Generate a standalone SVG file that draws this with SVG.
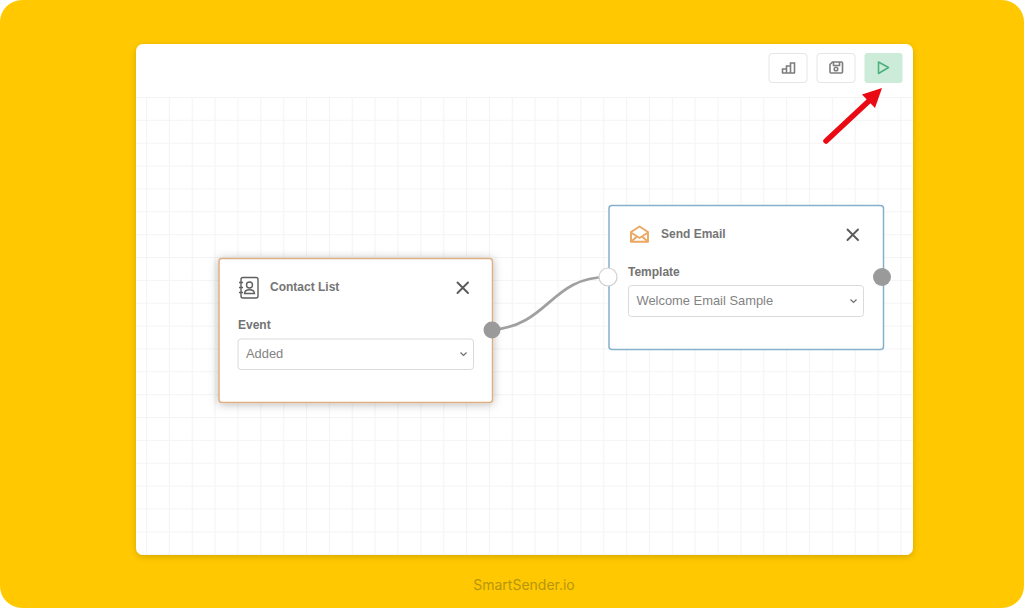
<svg xmlns="http://www.w3.org/2000/svg" width="1024" height="608" viewBox="0 0 1024 608">
<defs>
<filter id="cardShadow" x="-10%" y="-10%" width="120%" height="120%"><feDropShadow dx="0" dy="2" stdDeviation="3" flood-color="#000" flood-opacity="0.16"/></filter>
<filter id="nodeShadow" x="-15%" y="-20%" width="130%" height="140%"><feDropShadow dx="0" dy="1" stdDeviation="5" flood-color="#000" flood-opacity="0.28"/></filter>
<pattern id="grid" x="146" y="97" width="22.86" height="22.86" patternUnits="userSpaceOnUse"><path d="M0.5 0V22.86M0 0.5H22.86" fill="none" stroke="#f4f4f4" stroke-width="1.2"/></pattern>
</defs>
<style>
text{font-family:"Liberation Sans",Arial,sans-serif}
.title{font-size:12px;font-weight:700;fill:#757575}
.label{font-size:12px;font-weight:700;fill:#737373}
.value{font-size:12.9px;fill:#838383}
.card{fill:#fff;stroke-width:1.5}
.sel{fill:#fff;stroke:#dadada;stroke-width:1}
.x{fill:none;stroke:#5a5a5a;stroke-width:1.9;stroke-linecap:round}
.chev{fill:none;stroke:#6e6e6e;stroke-width:1.2}
.btn{fill:#fff;stroke:#e6e6e6;stroke-width:1}
.ico{fill:none;stroke:#7d7d7d;stroke-width:1.6}
.port{fill:#9a9a9a}
</style>
<rect width="1024" height="608" fill="#fff"/>
<rect width="1024" height="608" rx="22" fill="#ffc800"/>
<g id="canvas">
<rect x="136" y="44" width="777" height="511" rx="7" fill="#fff" filter="url(#cardShadow)"/>
<path d="M136 97H913V548a7 7 0 0 1-7 7H143a7 7 0 0 1-7-7Z" fill="url(#grid)"/>
</g>
<g id="toolbar">
<g id="btn-stats"><rect class="btn" x="769" y="53.500" width="38" height="29" rx="3"/><path class="ico" d="M782.500 73V69H786.500V73M786.500 73V66H790.500V73M790.500 73V63H794.500V73M782 73H795"/></g>
<g id="btn-save"><rect class="btn" x="817" y="53.500" width="38" height="29" rx="3"/><path class="ico" d="M830 64.500L832.500 62H841.500Q842.500 62 842.500 63V72Q842.500 73 841.500 73H831Q830 73 830 72ZM833.500 62V65.500H839.500V62"/><circle class="ico" cx="836" cy="69" r="1.800"/></g>
<g id="btn-run"><rect x="864.500" y="53" width="38" height="30" rx="3" fill="#cdebd9"/><path d="M878.500 62L888.500 67.500L878.500 73.500Z" fill="none" stroke="#4cb27b" stroke-width="1.600" stroke-linejoin="round"/></g>
</g>
<g id="arrow"><path d="M826 141L870 100" stroke="#ea0a14" stroke-width="5.500" stroke-linecap="round"/><path d="M882 88L875 108L862 94.500Z" fill="#ea0a14"/></g>
<g id="connectors"><path d="M492 330C550 325 550 277 608 277" fill="none" stroke="#a0a0a0" stroke-width="2.700"/></g>
<g id="contact-list">
<rect class="card" x="219" y="258.500" width="273.500" height="144" rx="3" stroke="#dbb084" filter="url(#nodeShadow)"/>
<g fill="none" stroke="#5f5f5f" stroke-width="1.400"><rect x="241" y="277.500" width="17" height="20.500" rx="2"/><circle cx="249.500" cy="285" r="3"/><path d="M244.500 293.500C245 288.500 254 288.500 254.500 293.500ZM239 282.500H243M239 287.500H243M239 292.500H243"/></g>
<text class="title" x="270" y="290.500">Contact List</text>
<path class="x" d="M457.500 282.500L468 293M468 282.500L457.500 293"/>
<text class="label" x="238" y="329">Event</text>
<rect class="sel" x="238" y="339" width="235.500" height="30.500" rx="3"/>
<text class="value" x="246" y="358">Added</text>
<path class="chev" d="M460.500 352.500L463.500 355.500L466.500 352.500"/>
<circle class="port" cx="492" cy="330" r="8.500"/>
</g>
<g id="send-email">
<rect class="card" x="609" y="205.500" width="274.500" height="144" rx="3" stroke="#84b0cb"/>
<g fill="none" stroke="#eca763" stroke-width="1.900" stroke-linejoin="round"><path d="M631 232L639.500 226.500L648 232V241.800H631Z"/><path d="M631 232.500L639.500 238L648 232.500M631 241.800L637 236.500M648 241.800L642 236.500"/></g>
<text class="title" x="661" y="238">Send Email</text>
<path class="x" d="M847.500 229.500L858 240M858 229.500L847.500 240"/>
<text class="label" x="628" y="276">Template</text>
<rect class="sel" x="628.500" y="285.500" width="235" height="31" rx="3"/>
<text class="value" x="636.500" y="304.500">Welcome Email Sample</text>
<path class="chev" d="M850.500 299.500L853.500 302.500L856.500 299.500"/>
<circle cx="608" cy="277" r="9" fill="#fff" stroke="#cfcfcf" stroke-width="1.200"/>
<circle class="port" cx="882" cy="277" r="9"/>
</g>
<text x="524" y="590" text-anchor="middle" font-size="14" fill="#b8950f" style="font-family:Inter,'Liberation Sans',sans-serif">SmartSender.io</text>
</svg>
